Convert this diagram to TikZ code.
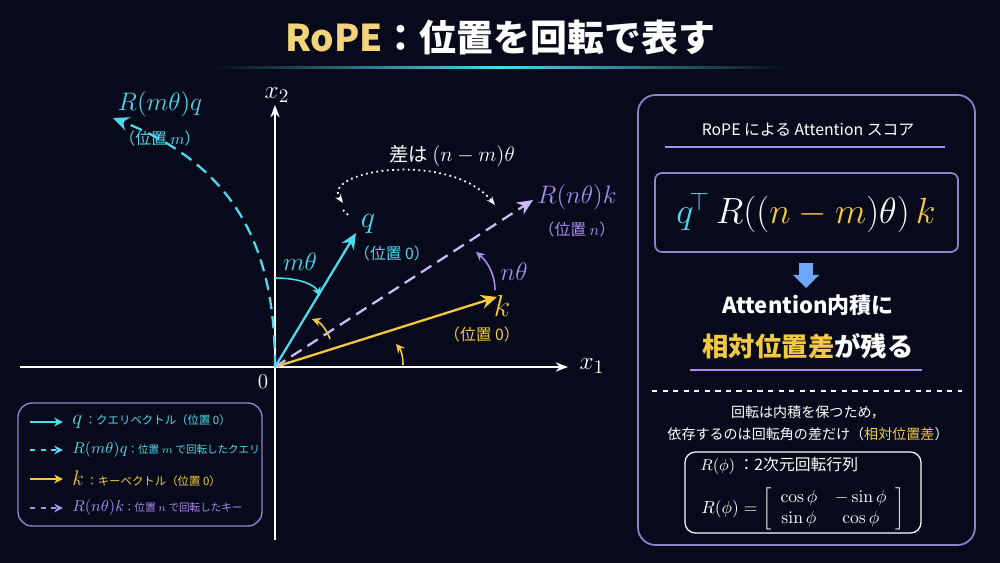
\documentclass[tikz,border=0pt]{standalone}
\usepackage{amsmath}
\usepackage[no-math]{fontspec}
\setmainfont{Noto Sans CJK JP}
\usetikzlibrary{arrows.meta}
\definecolor{bg}{HTML}{070A1A}
\definecolor{cy}{HTML}{4FD8EE}
\definecolor{ye}{HTML}{F5C842}
\definecolor{pu}{HTML}{A98CF0}
\definecolor{lav}{HTML}{8A84D0}
\definecolor{tit}{HTML}{F5D37A}
\begin{document}
\begin{tikzpicture}[x=0.02cm,y=-0.02cm,
 every node/.style={text=white,inner sep=0pt},
 ar/.style={-{Stealth[length=9pt,width=8pt]},line width=1.3pt},
 sm/.style={-{Stealth[length=5pt,width=5pt]},line width=0.9pt},
 box/.style={draw=lav,rounded corners=8pt,line width=0.8pt}]
\fill[bg] (0,0) rectangle (1000,563);
\useasboundingbox (0,0) rectangle (1000,563);
% title
\node (title) at (500,38) {\fontsize{21}{24}\selectfont\bfseries\textcolor{tit}{RoPE}：位置を回転で表す};
\shade[left color=bg,right color=cy] (210,67) rectangle (500,69);
\shade[left color=cy,right color=bg] (500,67) rectangle (790,69);
% axes
\coordinate (O) at (275,367);
\coordinate (xe) at (568,367);
\coordinate (ye) at (275,105);
\draw[white,line width=0.9pt,-{Stealth[length=7pt]}] (20,367) -- (xe);
\draw[white,line width=0.9pt,-{Stealth[length=7pt]}] (275,540) -- (ye);
\node (x1) at (592,366) {\fontsize{15}{17}\selectfont$x_1$};
\node (x2) at (277,95) {\fontsize{15}{17}\selectfont$x_2$};
\node (z) at (263,382) {\fontsize{12}{14}\selectfont$0$};
% vectors
\coordinate (q) at (356,233);
\coordinate (k) at (497,297);
\coordinate (rk) at (533,200);
\coordinate (rq) at (113,118);
\draw[ar,cy] (O) -- (q);
\draw[ar,ye] (O) -- (k);
\draw[ar,pu!60!white,dashed,dash pattern=on 7pt off 4pt] (O) -- (rk);
\draw[ar,cy,dashed,dash pattern=on 7pt off 4pt] (O) .. controls (275,260) and (245,170) .. (rq);
% labels
\node (lrq) at (160,104) {\fontsize{15}{17}\selectfont\color{cy}$R(m\theta)q$};
\node (lrqp) at (160,138) {\fontsize{9}{11}\selectfont\color{cy}（位置 $m$）};
\node (lq) at (368,224) {\fontsize{16}{18}\selectfont\color{cy}$q$};
\node (lqp) at (392,253) {\fontsize{9}{11}\selectfont\color{cy}（位置 0）};
\node (lk) at (502,306) {\fontsize{16}{18}\selectfont\color{ye}$k$};
\node (lkp) at (482,334) {\fontsize{9}{11}\selectfont\color{ye}（位置 0）};
\node (lrk) at (577,197) {\fontsize{15}{17}\selectfont\color{pu}$R(n\theta)k$};
\node (lrkp) at (577,229) {\fontsize{9}{11}\selectfont\color{pu}（位置 $n$）};
\node (lmt) at (300,262) {\fontsize{14}{16}\selectfont\color{cy}$m\theta$};
\node (lnt) at (514,272) {\fontsize{14}{16}\selectfont\color{pu}$n\theta$};
\node (ldiff) at (452,156) {\fontsize{11}{13}\selectfont 差は {\fontsize{13}{15}\selectfont$(n-m)\theta$}};
% arcs
\draw[sm,cy] (275,278) .. controls (300,278) and (315,285) .. (320,296);
\draw[sm,ye] (330,339) .. controls (327,330) and (320,322) .. (312,319);
\draw[sm,ye] (403,365) .. controls (403,356) and (401,350) .. (396,344);
\draw[sm,pu] (495,290) .. controls (495,275) and (488,262) .. (476,252);
\draw[white,dotted,line width=1pt,{Stealth[length=5pt]}-{Stealth[length=5pt]}] (343,203) .. controls (320,170) and (450,150) .. (495,205);
\coordinate (dtop) at (343,210);
\draw[white,dotted,line width=1pt] (dtop) -- (350,217);
% legend
\draw[box] (18,403) rectangle (262,526);
\coordinate (a1) at (30,422); \coordinate (b1) at (63,422);
\coordinate (a2) at (30,450); \coordinate (b2) at (63,450);
\coordinate (a3) at (30,479); \coordinate (b3) at (63,479);
\coordinate (a4) at (30,508); \coordinate (b4) at (63,508);
\draw[sm,cy,line width=1.2pt] (a1) -- (b1);
\draw[sm,cy,line width=1.2pt,dashed] (a2) -- (b2);
\draw[sm,ye,line width=1.2pt] (a3) -- (b3);
\draw[sm,pu,line width=1.2pt,dashed] (a4) -- (b4);
\node[anchor=west] (t1) at (72,422) {\fontsize{6.5}{8}\selectfont\color{cy}{\fontsize{12}{13}\selectfont$q$} ：クエリベクトル（位置 0）};
\node[anchor=west] (t2) at (72,450) {\fontsize{6}{8}\selectfont\color{cy}{\fontsize{9}{11}\selectfont$R(m\theta)q$}：位置 $m$ で回転したクエリ};
\node[anchor=west] (t3) at (72,479) {\fontsize{6.5}{8}\selectfont\color{ye}{\fontsize{12}{13}\selectfont$k$} ：キーベクトル（位置 0）};
\node[anchor=west] (t4) at (72,508) {\fontsize{6}{8}\selectfont\color{pu}{\fontsize{9}{11}\selectfont$R(n\theta)k$}：位置 $n$ で回転したキー};
% right panel
\draw[box,line width=1pt,rounded corners=10pt] (638,95) rectangle (975,545);
\node (ph) at (808,130) {\fontsize{9}{11}\selectfont RoPE による Attention スコア};
\draw[pu,line width=1.2pt] (665,147) -- (945,147);
\draw[box,line width=1pt,rounded corners=4pt] (655,173) rectangle (958,252);
\node (fm) at (806,213) {\fontsize{20}{24}\selectfont$\color{cy}q^{\!\top}\,\color{white}R((\color{ye}n-m\color{white})\theta)\,\color{ye}k$};
\fill[cy!60!blue!70] (799,263) rectangle (813,275);
\fill[cy!60!blue!70] (793,275) -- (819,275) -- (806,288) -- cycle;
\node (at) at (808,305) {\fontsize{12.5}{15}\selectfont\bfseries Attention内積に};
\node (sd) at (808,346) {\fontsize{15}{18}\selectfont\bfseries\textcolor{ye}{相対位置差}が残る};
\draw[pu,line width=1.2pt] (690,370) -- (922,370);
\draw[white!60,dashed,line width=0.6pt] (652,391) -- (962,391);
\node (e1) at (808,412) {\fontsize{8}{10}\selectfont 回転は内積を保つため，};
\node (e2) at (808,434) {\fontsize{8}{10}\selectfont 依存するのは回転角の差だけ（\textcolor{ye}{相対位置差}）};
\draw[box,draw=white!70,line width=0.7pt,rounded corners=6pt] (685,452) rectangle (921,533);
\node[anchor=west] (mt) at (700,466) {\fontsize{9}{11}\selectfont$R(\phi)$ ：2次元回転行列};
\node (mx) at (803,509) {\fontsize{10}{12}\selectfont$R(\phi)=\left[\begin{array}{cc}\cos\phi & -\sin\phi\\ \sin\phi & \cos\phi\end{array}\right]$};
\end{tikzpicture}
\end{document}
